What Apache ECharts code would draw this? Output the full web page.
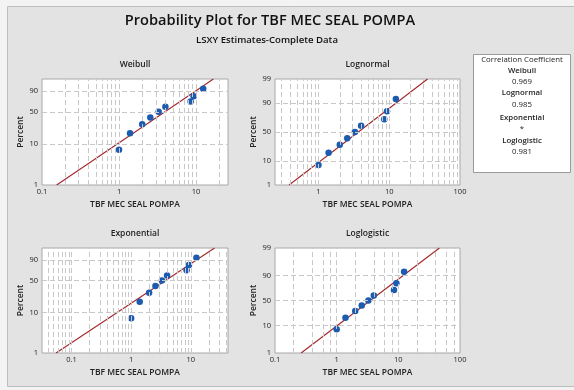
<!DOCTYPE html>
<html><head><meta charset="utf-8">
<script src="https://cdn.jsdelivr.net/npm/echarts@6/dist/echarts.min.js"></script>
<style>html,body{margin:0;padding:0;background:#f3f3f3}#c{width:574px;height:390px}</style>
</head><body><div id="c"></div><script>
// ---- data ----
const timeValues = [1.0, 1.39, 2.0, 2.55, 3.27, 4.0, 8.5, 9.3, 12.4];
const percentValues = [7.4, 18.1, 28.7, 39.4, 50.0, 60.6, 71.3, 81.9, 92.6];
const weibullFit = [[0.155, 1], [16.8, 99]];
const lognormalFit = [[0.384, 1], [34.8, 99]];
const exponentialFit = [[0.055, 1], [25, 99]];
const loglogisticFit = [[0.265, 1], [46.4, 99]];
const percentTicksShort = [1, 10, 50, 90];
const percentTicksFull = [1, 10, 50, 90, 99];
const percentGridLines = [10, 50, 90];
const allMultiples = [1, 2, 3, 4, 5, 6, 7, 8, 9];
const evenMultiples = [1, 2, 4, 6, 8];
const corrNames = ['Weibull', 'Lognormal', 'Exponential', 'Loglogistic'];
const corrValues = ['0.969', '0.985', '*', '0.981'];
const titleText = 'Probability Plot for TBF MEC SEAL POMPA';
const subtitleText = 'LSXY Estimates-Complete Data';
const xName = 'TBF MEC SEAL POMPA';
const yName = 'Percent';

// ---- probability-scale transforms ----
function normInv(p){
 const a=[-3.969683028665376e+01,2.209460984245205e+02,-2.759285104469687e+02,1.383577518672690e+02,-3.066479806614716e+01,2.506628277459239e+00];
 const b=[-5.447609879822406e+01,1.615858368580409e+02,-1.556989798598866e+02,6.680131188771972e+01,-1.328068155288572e+01];
 const c=[-7.784894002430293e-03,-3.223964580411365e-01,-2.400758277161838e+00,-2.549732539343734e+00,4.374664141464968e+00,2.938163982698783e+00];
 const d=[7.784695709041462e-03,3.224671290700398e-01,2.445134137142996e+00,3.754408661907416e+00];
 const pl=0.02425;
 if(p<pl){const q=Math.sqrt(-2*Math.log(p));return (((((c[0]*q+c[1])*q+c[2])*q+c[3])*q+c[4])*q+c[5])/((((d[0]*q+d[1])*q+d[2])*q+d[3])*q+1);}
 if(p>1-pl){const q=Math.sqrt(-2*Math.log(1-p));return -(((((c[0]*q+c[1])*q+c[2])*q+c[3])*q+c[4])*q+c[5])/((((d[0]*q+d[1])*q+d[2])*q+d[3])*q+1);}
 const q=p-0.5,r=q*q;return (((((a[0]*r+a[1])*r+a[2])*r+a[3])*r+a[4])*r+a[5])*q/(((((b[0]*r+b[1])*r+b[2])*r+b[3])*r+b[4])*r+1);
}
const tWeibull = p => Math.log(-Math.log(1 - p / 100));
const tNormal = p => normInv(p / 100);
const tLogit = p => Math.log(p / (100 - p));

const FONT = 'Open Sans';
const panels = [
 {title:'Weibull', fit:weibullFit, tf:tWeibull, xMin:0.1, xMax:26, ticks:percentTicksShort, mult:allMultiples, showMin:true, showMax:false, grid:{left:42, top:79, width:186, height:106}},
 {title:'Lognormal', fit:lognormalFit, tf:tNormal, xMin:0.243, xMax:100, ticks:percentTicksFull, mult:allMultiples, showMin:false, showMax:true, grid:{left:275, top:79, width:185, height:106}},
 {title:'Exponential', fit:exponentialFit, tf:tWeibull, xMin:0.032, xMax:42, ticks:percentTicksShort, mult:allMultiples, showMin:false, showMax:false, grid:{left:42, top:248, width:186, height:105}},
 {title:'Loglogistic', fit:loglogisticFit, tf:tLogit, xMin:0.1, xMax:100, ticks:percentTicksFull, mult:evenMultiples, showMin:true, showMax:true, grid:{left:275, top:248, width:185, height:105}}
];

function gridXValues(min, max, mult){
 const out = [];
 for (let e = -3; e <= 3; e++) for (const m of mult) {
  const v = +(m * Math.pow(10, e)).toPrecision(6);
  if (v > min * 1.001 && v < max * 0.999) out.push(v);
 }
 return out;
}

const option = {
 backgroundColor: 'transparent',
 animation: false,
 textStyle: {fontFamily: FONT},
 grid: [], xAxis: [], yAxis: [], series: [],
 graphic: []
};

option.graphic.push({type:'rect', z:-10, shape:{x:7.5, y:6.5, width:600, height:380}, style:{fill:'#e3e3e3', stroke:'#bdbdbd', lineWidth:1}, silent:true});
option.graphic.push({type:'text', style:{text:titleText, x:270, y:21, align:'center', verticalAlign:'middle', font:'600 14.6px "Open Sans"', fill:'#111'}});
option.graphic.push({type:'text', style:{text:subtitleText, x:267, y:40, align:'center', verticalAlign:'middle', font:'600 9.6px "Open Sans"', fill:'#111'}});

panels.forEach((P, i) => {
 const g = P.grid;
 option.grid.push(Object.assign({show:true, backgroundColor:'#ffffff', borderColor:'#a8a8a8', borderWidth:1}, g));
 option.graphic.push({type:'text', style:{text:P.title, x:g.left + g.width/2, y:g.top - 14, align:'center', verticalAlign:'middle', font:'600 8.5px "Open Sans"', fill:'#222'}});
 option.xAxis.push({
  type:'log', logBase:10, gridIndex:i, min:P.xMin, max:P.xMax,
  axisLine:{show:false}, axisTick:{show:false}, splitLine:{show:false},
  axisLabel:{fontSize:7.5, color:'#222', margin:3, showMinLabel:P.showMin, showMaxLabel:P.showMax,
   formatter: v => String(+Number(v).toPrecision(3))},
  name:xName, nameLocation:'middle', nameGap:15,
  nameTextStyle:{fontSize:8.5, fontWeight:600, color:'#222'}
 });
 const tv = P.ticks.map(P.tf);
 option.yAxis.push({
  type:'value', gridIndex:i, min:P.tf(1), max:P.tf(99),
  axisLine:{show:false}, axisTick:{show:false}, splitLine:{show:false},
  axisLabel:{fontSize:7.5, color:'#222', margin:4, customValues:tv,
   formatter: v => { for (let k = 0; k < tv.length; k++) if (Math.abs(tv[k] - v) < 1e-6) return String(P.ticks[k]); return ''; }},
  name:yName, nameLocation:'middle', nameGap:17,
  nameTextStyle:{fontSize:8.5, fontWeight:600, color:'#222'}
 });
 const xg = gridXValues(P.xMin, P.xMax, P.mult);
 option.series.push({
  type:'line', xAxisIndex:i, yAxisIndex:i, data:[], z:1, silent:true,
  markLine:{silent:true, symbol:['none','none'], label:{show:false}, animation:false,
   lineStyle:{type:[5,3], color:'#c8c8c8', width:1},
   emphasis:{disabled:true},
   data: xg.map(v => ({xAxis:v})).concat(percentGridLines.map(p => ({yAxis:P.tf(p)})))}
 });
 option.series.push({
  type:'line', xAxisIndex:i, yAxisIndex:i, z:2, silent:true, symbol:'none',
  lineStyle:{color:'#a3262a', width:1.1},
  data: P.fit.map(d => [d[0], P.tf(d[1])])
 });
 option.series.push({
  type:'scatter', xAxisIndex:i, yAxisIndex:i, z:3, symbolSize:6.5,
  itemStyle:{color:'#1b5bb0', opacity:1},
  data: timeValues.map((t, k) => [t, P.tf(percentValues[k])])
 });
});

// correlation box
option.graphic.push({type:'rect', shape:{x:473.5, y:54.5, width:97, height:118}, style:{fill:'#ffffff', stroke:'#9a9a9a', lineWidth:1}});
option.graphic.push({type:'text', style:{text:'Correlation Coefficient', x:522, y:60, align:'center', verticalAlign:'middle', font:'7.8px "Open Sans"', fill:'#222'}});
const nameY = [70.5, 93, 117.5, 141];
const valY = [82, 104.5, 128.5, 152];
corrNames.forEach((n, k) => {
 option.graphic.push({type:'text', style:{text:n, x:522, y:nameY[k], align:'center', verticalAlign:'middle', font:'600 7.8px "Open Sans"', fill:'#222'}});
 option.graphic.push({type:'text', style:{text:corrValues[k], x:522, y:valY[k], align:'center', verticalAlign:'middle', font:'7.8px "Open Sans"', fill:'#222'}});
});

const chart = echarts.init(document.getElementById('c'));
chart.setOption(option);
</script></body></html>
